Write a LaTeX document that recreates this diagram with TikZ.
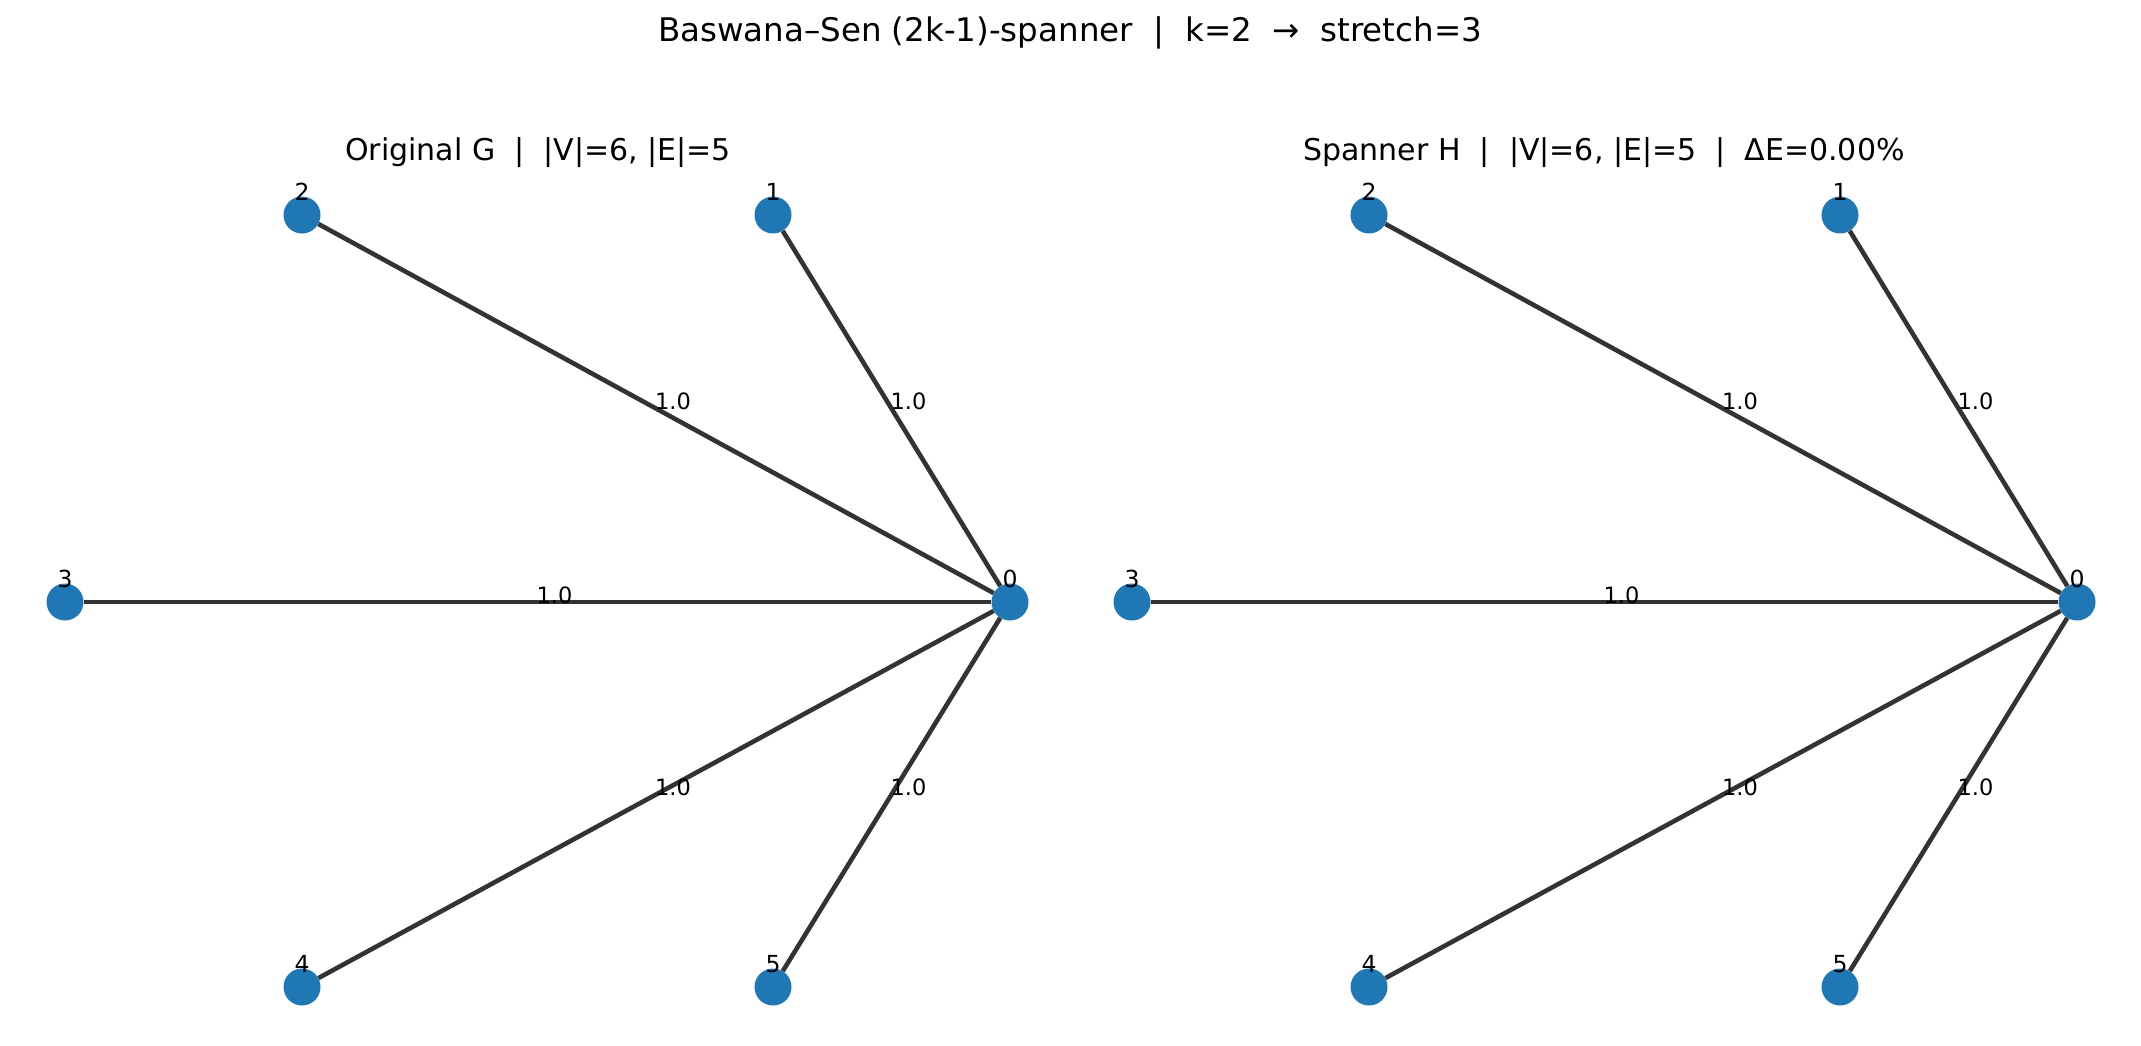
\documentclass[tikz,border=0pt]{standalone}
\usepackage{fontspec}
\setmainfont{DejaVu Sans}
\definecolor{nodeblue}{HTML}{1F77B4}
\definecolor{edgegray}{HTML}{333333}
\tikzset{
  vertex/.style={circle,fill=nodeblue,draw=none,minimum size=37pt,inner sep=0pt},
  vlabel/.style={font=\fontsize{23.5}{26}\selectfont,text=black,inner sep=0pt,anchor=center,yshift=23pt},
  edge/.style={draw=edgegray,line width=4.6pt},
  wlabel/.style={font=\fontsize{22.5}{25}\selectfont,inner sep=0pt,anchor=center,xshift=17pt,yshift=7pt},
  paneltitle/.style={font=\fontsize{30}{34}\selectfont,inner sep=0pt,anchor=center},
  figtitle/.style={font=\fontsize{32.5}{36}\selectfont,inner sep=0pt,anchor=center},
}
\begin{document}
\begin{tikzpicture}[x=1pt,y=-1pt]
\useasboundingbox[fill=white] (0,0) rectangle (2141,1045);

\node[figtitle] (title) at (1070,33) {Baswana–Sen (2k-1)-spanner\ \ |\ \ k=2\ \ →\ \ stretch=3};
\node[paneltitle] (titleL) at (538,153) {Original G\ \ |\ \ |V|=6, |E|=5};
\node[paneltitle] (titleR) at (1604,153) {Spanner H\ \ |\ \ |V|=6, |E|=5\ \ |\ \ ΔE=0.00\%};

% two panels: the original graph and its spanner
\foreach \p/\dx in {L/0,R/1067}{
  \begin{scope}[xshift=\dx pt]
    \node[vertex,label={[vlabel]center:0}] (\p0) at (1010,602) {};
    \node[vertex,label={[vlabel]center:1}] (\p1) at (773,215) {};
    \node[vertex,label={[vlabel]center:2}] (\p2) at (302,215) {};
    \node[vertex,label={[vlabel]center:3}] (\p3) at (65,602) {};
    \node[vertex,label={[vlabel]center:4}] (\p4) at (302,987) {};
    \node[vertex,label={[vlabel]center:5}] (\p5) at (773,987) {};
    \foreach \v in {1,...,5}{
      \draw[edge] (\p\v) -- (\p0) node[wlabel,pos=0.5] (\p w\v) {1.0};
    }
  \end{scope}
}
\end{tikzpicture}
\end{document}
